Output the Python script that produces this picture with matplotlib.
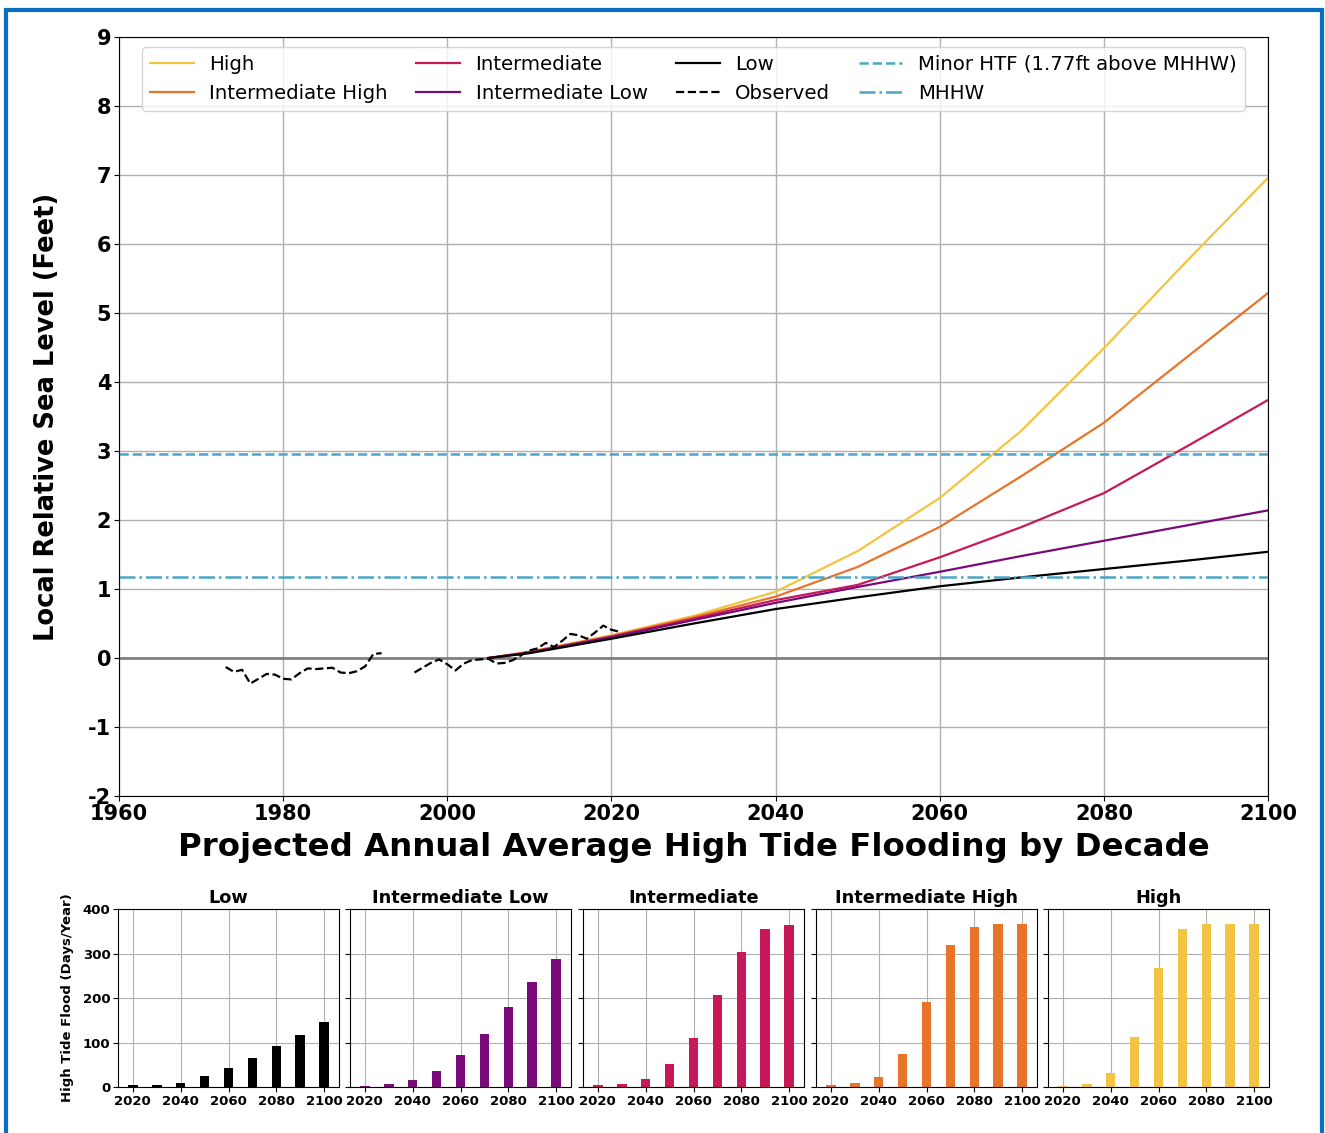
import numpy as np
import matplotlib
matplotlib.use("Agg")
import matplotlib.pyplot as plt
from matplotlib.patches import Rectangle

plt.rcParams['axes.unicode_minus'] = False

# ---- Data ----
proj_years = [2005, 2010, 2020, 2030, 2040, 2050, 2060, 2070, 2080, 2090, 2100]
low = [0.0, 0.07, 0.28, 0.50, 0.71, 0.88, 1.04, 1.17, 1.29, 1.41, 1.54]
int_low = [0.0, 0.08, 0.30, 0.55, 0.80, 1.03, 1.25, 1.48, 1.70, 1.92, 2.14]
intermediate = [0.0, 0.08, 0.31, 0.57, 0.84, 1.06, 1.46, 1.90, 2.39, 3.06, 3.74]
int_high = [0.0, 0.09, 0.32, 0.59, 0.89, 1.32, 1.90, 2.64, 3.41, 4.35, 5.29]
high = [0.0, 0.09, 0.33, 0.61, 0.96, 1.55, 2.32, 3.30, 4.49, 5.74, 6.96]

obs_years = list(range(1973, 2022))
observed = [-0.13, -0.20, -0.17, -0.37, -0.30, -0.23, -0.24, -0.30, -0.31, -0.22,
            -0.15, -0.16, -0.15, -0.14, -0.21, -0.22, -0.19, -0.12, 0.06, 0.07,
            np.nan, np.nan, np.nan, -0.21, -0.14, -0.07, -0.02, -0.09, -0.18, -0.08,
            -0.03, -0.02, -0.01, -0.08, -0.07, -0.03, 0.04, 0.11, 0.14, 0.22,
            0.16, 0.25, 0.35, 0.33, 0.28, 0.37, 0.47, 0.41, 0.38]

mhhw = 1.18
minor_htf = mhhw + 1.77

bar_years = [2020, 2030, 2040, 2050, 2060, 2070, 2080, 2090, 2100]
htf_low = [4, 4, 10, 25, 43, 66, 92, 117, 147]
htf_int_low = [3, 7, 16, 37, 72, 120, 179, 236, 288]
htf_intermediate = [5, 7, 19, 52, 109, 207, 303, 354, 364]
htf_int_high = [4, 8, 22, 75, 190, 320, 360, 366, 366]
htf_high = [3, 7, 31, 112, 268, 354, 366, 366, 366]

c_low = '#000000'
c_il = '#7a0a7a'
c_int = '#c8185a'
c_ih = '#e8742a'
c_high = '#f2c440'
c_ref = '#4aa6c8'

fig = plt.figure(figsize=(13.25, 11.33), dpi=100)

# blue frame around the figure
fig.patches.append(Rectangle((6 / 1325, -0.05), 1316 / 1325, 1 - 10 / 1133 + 0.05,
                             transform=fig.transFigure, fill=False,
                             edgecolor='#0a6fc2', linewidth=3))

# ---- Main axes ----
ax = fig.add_axes([0.0898, 0.2974, 0.8672, 0.6699])
ax.plot(proj_years, high, color=c_high, lw=1.6, label='High')
ax.plot(proj_years, int_high, color=c_ih, lw=1.6, label='Intermediate High')
ax.plot(proj_years, intermediate, color=c_int, lw=1.6, label='Intermediate')
ax.plot(proj_years, int_low, color=c_il, lw=1.6, label='Intermediate Low')
ax.plot(proj_years, low, color=c_low, lw=1.6, label='Low')
ax.plot(obs_years, observed, color='black', ls='--', lw=1.6, label='Observed')
ax.axhline(minor_htf, color=c_ref, ls='--', lw=1.8, label='Minor HTF (1.77ft above MHHW)')
ax.axhline(mhhw, color=c_ref, ls='-.', lw=1.8, label='MHHW')
ax.axhline(0, color='gray', lw=2, zorder=1)

ax.set_xlim(1960, 2100)
ax.set_ylim(-2, 9)
ax.set_xticks(range(1960, 2101, 20))
ax.set_yticks(range(-2, 10))
ax.grid(True, color='#b0b0b0', lw=1)
ax.set_axisbelow(True)
for lab in ax.get_xticklabels() + ax.get_yticklabels():
    lab.set_fontweight('bold')
    lab.set_fontsize(15)
ax.tick_params(pad=2)
ax.set_ylabel('Local Relative Sea Level (Feet)', fontsize=18.5, fontweight='bold',
              labelpad=20)
ax.set_xlabel('Projected Annual Average High Tide Flooding by Decade',
              fontsize=23.3, fontweight='bold', labelpad=6)
ax.legend(loc='upper center', ncol=4, fontsize=14.2, framealpha=0.8,
          handlelength=2.2, columnspacing=1.45)

# ---- Bar panels ----
panels = [('Low', htf_low, c_low),
          ('Intermediate Low', htf_int_low, c_il),
          ('Intermediate', htf_intermediate, c_int),
          ('Intermediate High', htf_int_high, c_ih),
          ('High', htf_high, c_high)]
lefts = [118, 350, 583, 816, 1048]
for i, (name, vals, col) in enumerate(panels):
    bx = fig.add_axes([lefts[i] / 1325, 0.0406, 221 / 1325, 0.1571])
    bx.bar(bar_years, vals, width=4, color=col)
    bx.set_ylim(0, 400)
    bx.set_yticks([0, 100, 200, 300, 400])
    bx.set_xticks([2020, 2040, 2060, 2080, 2100])
    bx.grid(True, color='#b0b0b0', lw=0.8)
    bx.set_axisbelow(True)
    bx.set_title(name, fontsize=12.8, fontweight='bold', pad=4)
    bx.tick_params(labelsize=9.5, pad=2)
    for lab in bx.get_xticklabels() + bx.get_yticklabels():
        lab.set_fontweight('bold')
    if i == 0:
        bx.set_ylabel('High Tide Flood (Days/Year)', fontsize=9.5, fontweight='bold',
                      labelpad=6)
    else:
        bx.set_yticklabels([])

fig.savefig('out.png', dpi=100)
